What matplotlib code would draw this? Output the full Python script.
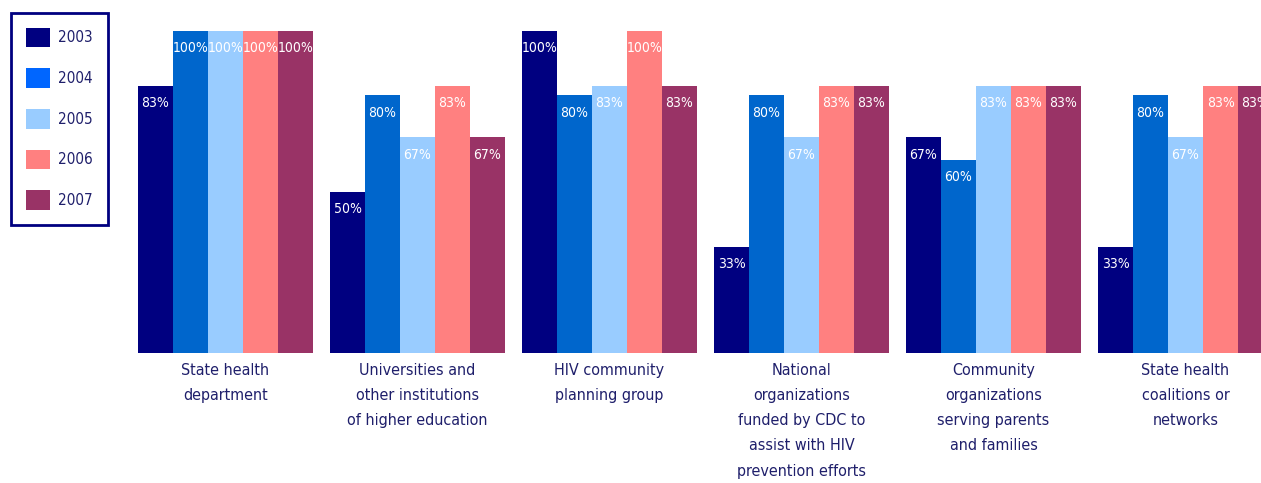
import matplotlib.pyplot as plt
import numpy as np
from matplotlib.patches import Patch

plt.rcParams['font.family'] = ['DejaVu Sans']
plt.rcParams['font.stretch'] = 'condensed'

# Data
categories = [
    "State health\ndepartment",
    "Universities and\nother institutions\nof higher education",
    "HIV community\nplanning group",
    "National\norganizations\nfunded by CDC to\nassist with HIV\nprevention efforts",
    "Community\norganizations\nserving parents\nand families",
    "State health\ncoalitions or\nnetworks",
]
years = ["2003", "2004", "2005", "2006", "2007"]
values = {
    "2003": [83, 50, 100, 33, 67, 33],
    "2004": [100, 80, 80, 80, 60, 80],
    "2005": [100, 67, 83, 67, 83, 67],
    "2006": [100, 83, 100, 83, 83, 83],
    "2007": [100, 67, 83, 83, 83, 83],
}
bar_colors = ["#000080", "#0066CC", "#99CCFF", "#FF8080", "#993366"]
legend_colors = ["#000080", "#0066FF", "#99CCFF", "#FF8080", "#993366"]
text_navy = "#1F1F6B"

fig = plt.figure(figsize=(12.61, 4.83), dpi=100)
ax = fig.add_axes([0, 130 / 483, 1, 353 / 483])

x = np.arange(len(categories))
w = 175 / 192 / 5

for k, yr in enumerate(years):
    pos = x - 2 * w + k * w
    vals = np.array(values[yr])
    ax.bar(pos, vals, width=w, color=bar_colors[k], linewidth=0)
    for px, v in zip(pos, vals):
        ax.annotate(f"{v}%", (px, v), xytext=(0, -7.5), textcoords="offset points",
                    ha="center", va="top", color="white", fontsize=10)

for i, cat in enumerate(categories):
    ax.annotate(cat, (x[i], 0), xytext=(0, -7), textcoords="offset points",
                ha="center", va="top", color=text_navy, fontsize=11.5,
                linespacing=1.85, annotation_clip=False)

ax.set_xlim(-225.5 / 192, (1261 - 225.5) / 192)
ax.set_ylim(0, 353 / 322 * 100)
ax.axis("off")

handles = [Patch(facecolor=c, edgecolor="none") for c in legend_colors]
leg = fig.legend(handles, years, loc="upper left",
                 bbox_to_anchor=(11 / 1261, 1 - 13 / 483),
                 bbox_transform=fig.transFigure, borderaxespad=0,
                 fontsize=11, handlelength=1.6, handleheight=1.6,
                 handletextpad=0.55, labelspacing=1.38, borderpad=0.95,
                 fancybox=False, framealpha=1)
leg.get_frame().set_edgecolor("#000080")
leg.get_frame().set_linewidth(2)
for t in leg.get_texts():
    t.set_color(text_navy)

fig.savefig("out.png", dpi=100)
